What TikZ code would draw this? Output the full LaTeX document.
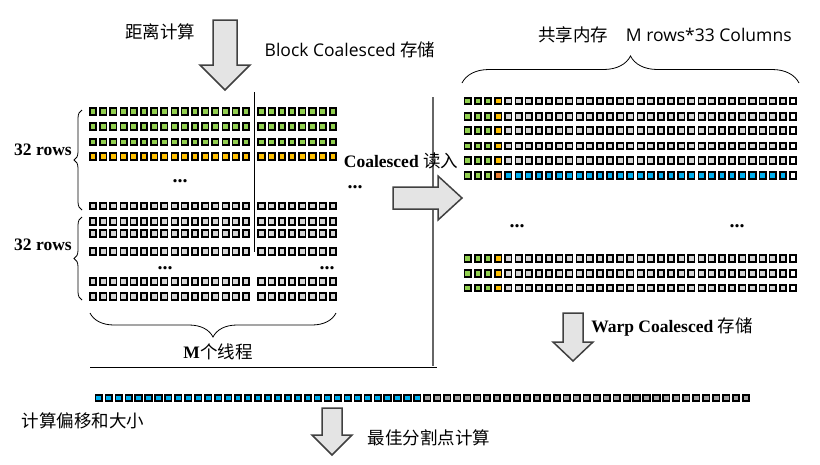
\documentclass[tikz,border=0pt]{standalone}
\usepackage{fontspec}
\setmainfont{Liberation Serif}
\newfontfamily\cjk{Noto Sans CJK SC}
\newfontfamily\latsans{Open Sans}
\usetikzlibrary{decorations.pathreplacing}
\definecolor{cgreen}{HTML}{92D050}
\definecolor{corange}{HTML}{FFC000}
\definecolor{cdorange}{HTML}{ED7D31}
\definecolor{cblue}{HTML}{00B0F0}
\definecolor{cgray}{HTML}{D6D6D6}
\definecolor{cdgray}{HTML}{A6A6A6}
\definecolor{arrowfill}{HTML}{E4E4E4}
\definecolor{arrowline}{HTML}{404040}
\begin{document}
\begin{tikzpicture}[x=1pt,y=-1pt,
  cell/.style={draw=black,line width=1.7pt},
  blockarrow/.style={draw=arrowline,fill=arrowfill,line width=1.5pt,line join=miter},
  label/.style={inner sep=0pt,font=\fontsize{17.5}{20}\selectfont},
  dots/.style={inner sep=0pt,font=\fontsize{20}{22}\selectfont\bfseries},
  bracedeco/.style={decorate,decoration={brace,amplitude=#1},line width=0.8pt}]
\useasboundingbox (0,0) rectangle (820,464);

% left block: 16 + 8 columns
\foreach \y/\c in {111.5/cgreen,126.5/cgreen,142/cgreen,156.5/corange,206/cgray,221.5/cgray,233.5/cgray,251.5/cgray,281.5/cgray,296.5/cgray}{
  \foreach \i in {0,...,15} \draw[cell,fill=\c] ({93+10.2*\i},\y) +(-3.2,-3.2) rectangle +(3.2,3.2);
  \foreach \i in {0,...,7} \draw[cell,fill=\c] ({261.5+10.2*\i},\y) +(-3.2,-3.2) rectangle +(3.2,3.2);
}
\draw[thin] (254,92) -- (254,252); % block split
\draw[gray!80!black,line width=1.3pt] (433,97) -- (433,366); % separator
\draw[thin] (90,367) -- (437,367);

% shared memory, 33 columns
\foreach \y/\c/\d in {101/corange/cgray,116.5/corange/cgray,130.5/corange/cgray,146/corange/cgray,160.5/corange/cgray,175.5/cdorange/cblue,258.5/corange/cgray,273.5/corange/cgray,288/corange/cgray}{
  \foreach \i in {0,1,2} \draw[cell,fill=cgreen] ({467.7+10.17*\i},\y) +(-3.2,-3.2) rectangle +(3.2,3.2);
  \draw[cell,fill=\c] ({467.7+10.17*3},\y) +(-3.2,-3.2) rectangle +(3.2,3.2);
  \foreach \i in {4,...,31} \draw[cell,fill=\d] ({467.7+10.17*\i},\y) +(-3.2,-3.2) rectangle +(3.2,3.2);
  \draw[cell,fill=white] ({467.7+10.17*32},\y) +(-3.2,-3.2) rectangle +(3.2,3.2);
}

% offsets and sizes row
\foreach \i in {0,...,65}{
  \ifnum\i<33 \def\c{cblue}\else\def\c{cdgray}\fi
  \draw[cell,fill=\c] ({98.7+9.96*\i},398) +(-3.2,-3.2) rectangle +(3.2,3.2);
}

% block arrows
\draw[blockarrow] (213,20) -- (237,20) -- (237,65) -- (250,65) -- (225,90) -- (200,65) -- (213,65) -- cycle; % distance
\draw[blockarrow] (393,187) -- (438,187) -- (438,176) -- (462,198) -- (438,220) -- (438,209) -- (393,209) -- cycle; % read
\draw[blockarrow] (563,313) -- (583,313) -- (583,342) -- (593,342) -- (573,361) -- (553,342) -- (563,342) -- cycle; % warp
\draw[blockarrow] (322,408) -- (342,408) -- (342,435) -- (352,435) -- (332,455) -- (312,435) -- (322,435) -- cycle; % split

% braces
\draw[bracedeco=8] (82,210) -- (82,110);
\draw[bracedeco=8] (82,300) -- (82,217);
\draw[bracedeco=24] (336,313) -- (90,313);
\draw[bracedeco=27] (462,83) -- (799,83);

% dots
\node[dots] (dotsA) at (180,181) {...};
\node[dots] (dotsB) at (355,187) {...};
\node[dots] (dotsC) at (165,268) {...};
\node[dots] (dotsD) at (327,268) {...};
\node[dots] (dotsE) at (517,226) {...};
\node[dots] (dotsF) at (737,226) {...};

% texts
\node[label] (dist) at (160,32) {\cjk 距离计算};
\node[label] (bstore) at (350,50) {{\latsans Block Coalesced} {\cjk 存储}};
\node[label] (shared) at (665,35) {{\cjk 共享内存}\quad{\latsans M rows*33 Columns}};
\node[label] (rowsA) at (43,150) {\bfseries 32 rows};
\node[label] (rowsB) at (43,245) {\bfseries 32 rows};
\node[label] (read) at (401,161) {{\bfseries Coalesced} {\cjk 读入}};
\node[label] (threads) at (218,352) {{\bfseries M}{\cjk 个线程}};
\node[label] (wstore) at (672,327) {{\bfseries Warp Coalesced} {\cjk 存储}};
\node[label] (offs) at (83,421) {\cjk 计算偏移和大小};
\node[label] (best) at (429,438) {\cjk 最佳分割点计算};
\end{tikzpicture}
\end{document}
